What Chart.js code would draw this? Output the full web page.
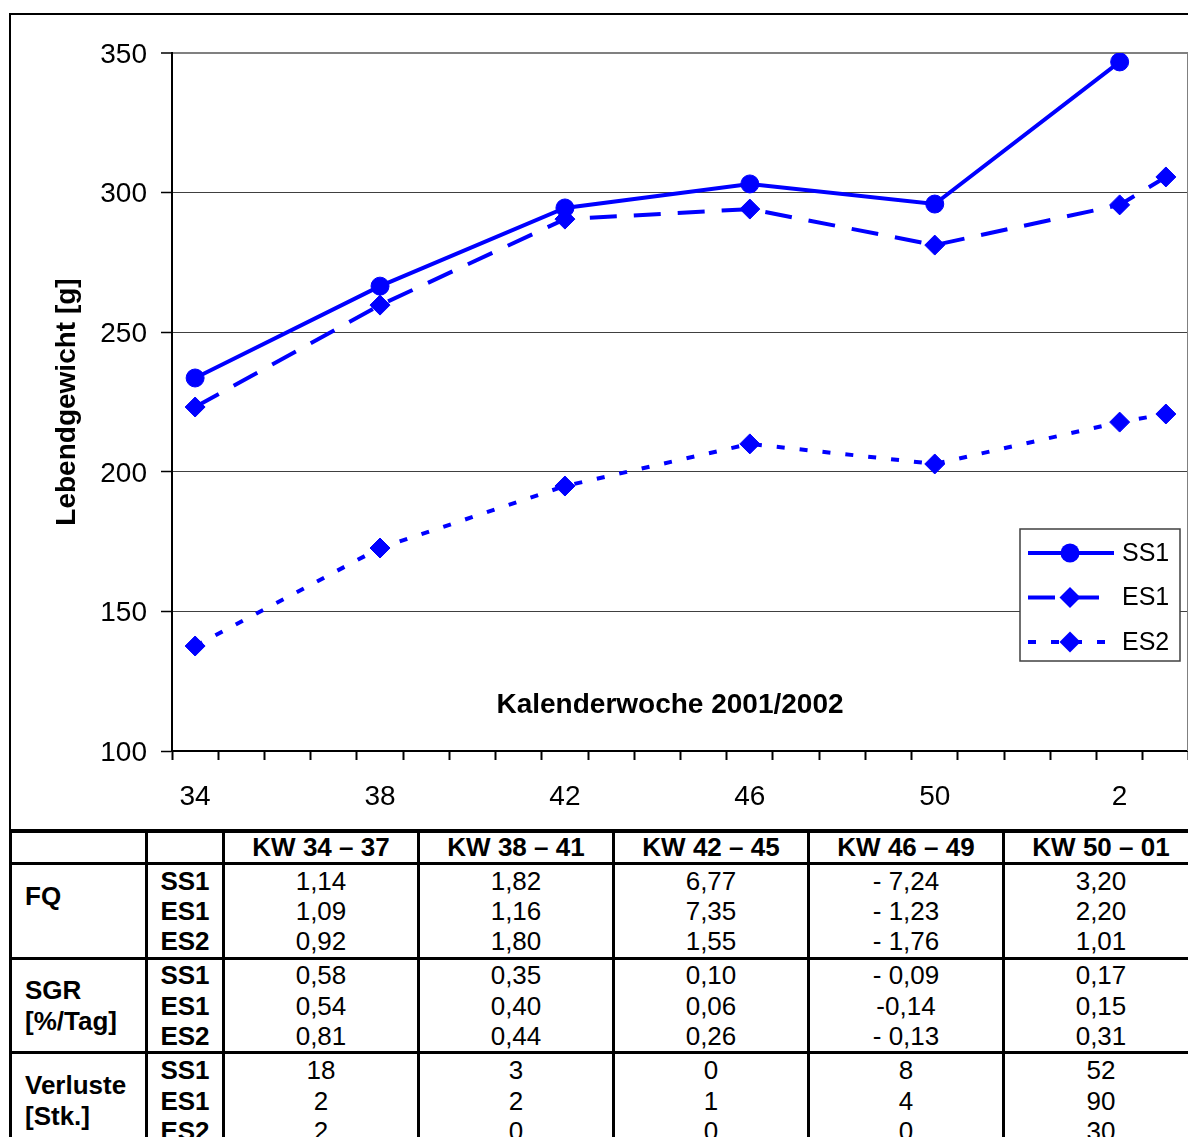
<!DOCTYPE html>
<html>
<head>
<meta charset="utf-8">
<title>Lebendgewicht</title>
<script src="https://cdn.jsdelivr.net/npm/chart.js@4.4.1/dist/chart.umd.min.js"></script>
<style>
    html, body {
        margin: 0;
        padding: 0;
        background: #fff;
        overflow: hidden;
        width: 1188px;
        height: 1137px;
        font-family: "Liberation Sans", Arial, sans-serif;
    }
    #frame {
        position: absolute;
        left: 9px;
        top: 13px;
        width: 1200px;
        height: 816px;
        border: 2px solid #000;
    }
    #chart-wrap {
        position: absolute;
        left: 0;
        top: 0;
        width: 1200px;
        height: 828px;
    }
    #stats {
        position: absolute;
        left: 9px;
        top: 829px;
        border-collapse: collapse;
        table-layout: fixed;
        width: 1188px;
        font-size: 26px;
        color: #000;
    }
    #stats td {
        border: 3px solid #000;
        padding: 0;
        line-height: 30.3px;
        text-align: center;
        vertical-align: middle;
    }
    #stats td.group {
        text-align: left;
        padding-left: 13px;
        font-weight: bold;
    }
    #stats td.series, #stats td.head {
        font-weight: bold;
    }
</style>
</head>
<body>
<div id="frame"></div>
<div id="chart-wrap"><canvas id="weightChart"></canvas></div>
<table id="stats"></table>

<script>
// x axis categories (calendar weeks 2001/2002)
const weekLabels = ['34', '35', '36', '37', '38', '39', '40', '41', '42', '43', '44', '45',
    '46', '47', '48', '49', '50', '51', '52', '1', '2', '3'];
const shownWeeks = ['34', '38', '42', '46', '50', '2'];

// measured live weights [g]
const ss1Weeks = ['34', '38', '42', '46', '50', '2'];
const ss1Values = [233.6, 266.5, 294.5, 303.1, 295.9, 346.8];
const esWeeks = ['34', '38', '42', '46', '50', '2', '3'];
const es1Values = [223.2, 259.7, 290.5, 294.1, 281.2, 295.6, 305.6];
const es2Values = [137.6, 172.7, 194.9, 210.0, 202.8, 217.8, 220.7];

// y axis range
const yMin = 100;
const yMax = 350;
const yStep = 50;

// table below the chart
const periods = ['KW 34 – 37', 'KW 38 – 41', 'KW 42 – 45', 'KW 46 – 49', 'KW 50 – 01'];
const seriesNames = ['SS1', 'ES1', 'ES2'];
const fqSS1 = ['1,14', '1,82', '6,77', '- 7,24', '3,20'];
const fqES1 = ['1,09', '1,16', '7,35', '- 1,23', '2,20'];
const fqES2 = ['0,92', '1,80', '1,55', '- 1,76', '1,01'];
const sgrSS1 = ['0,58', '0,35', '0,10', '- 0,09', '0,17'];
const sgrES1 = ['0,54', '0,40', '0,06', '-0,14', '0,15'];
const sgrES2 = ['0,81', '0,44', '0,26', '- 0,13', '0,31'];
const lossSS1 = ['18', '3', '0', '8', '52'];
const lossES1 = ['2', '2', '1', '4', '90'];
const lossES2 = ['2', '0', '0', '0', '30'];

const blue = '#0000ff';
const fontName = '"Liberation Sans", Arial, sans-serif';

function toPoints(weeks, values) {
    return weeks.map((w, i) => ({ x: w, y: values[i] }));
}

// draw one legend marker like the chart points
function drawMarker(ctx, style, x, y, r) {
    ctx.beginPath();
    if (style === 'circle') {
        ctx.arc(x, y, r, 0, Math.PI * 2);
    } else {
        ctx.moveTo(x - r, y);
        ctx.lineTo(x, y - r);
        ctx.lineTo(x + r, y);
        ctx.lineTo(x, y + r);
        ctx.closePath();
    }
    ctx.fill();
}

// extras: plot border, x title inside the plot, boxed legend
const extrasPlugin = {
    id: 'extras',
    afterDraw(chart) {
        const { ctx, chartArea } = chart;
        ctx.save();

        // right border of plot area
        ctx.strokeStyle = '#808080';
        ctx.lineWidth = 2;
        ctx.beginPath();
        ctx.moveTo(chartArea.right - 1, chartArea.top);
        ctx.lineTo(chartArea.right - 1, chartArea.bottom);
        ctx.stroke();

        // x axis title (sits inside the plot)
        ctx.fillStyle = '#000';
        ctx.font = 'bold 28px ' + fontName;
        ctx.textAlign = 'center';
        ctx.textBaseline = 'middle';
        ctx.fillText('Kalenderwoche 2001/2002', chartArea.left + 498, chartArea.bottom - 46);

        // legend box
        const bx = chartArea.right - 169;
        const by = chartArea.bottom - 222;
        const bw = 160;
        const bh = 132;
        ctx.fillStyle = '#fff';
        ctx.fillRect(bx, by, bw, bh);
        ctx.strokeStyle = '#404040';
        ctx.lineWidth = 1.5;
        ctx.strokeRect(bx, by, bw, bh);

        ctx.font = '25px ' + fontName;
        ctx.textAlign = 'left';
        chart.data.datasets.forEach((ds, i) => {
            const y = by + 24 + i * 44.5;
            ctx.strokeStyle = ds.borderColor;
            ctx.lineWidth = ds.borderWidth;
            ctx.setLineDash(ds.borderDash || []);
            ctx.beginPath();
            ctx.moveTo(bx + 8, y);
            ctx.lineTo(bx + 94, y);
            ctx.stroke();
            ctx.setLineDash([]);
            ctx.fillStyle = ds.pointBackgroundColor;
            drawMarker(ctx, ds.pointStyle, bx + 50, y, ds.pointStyle === 'circle' ? 9.5 : 10.5);
            ctx.fillStyle = '#000';
            ctx.fillText(ds.label, bx + 102, y + 1);
        });
        ctx.restore();
    }
};

const ctx = document.getElementById('weightChart').getContext('2d');
const weightChart = new Chart(ctx, {
    type: 'line',
    data: {
        labels: weekLabels,
        datasets: [{
            label: 'SS1',
            data: toPoints(ss1Weeks, ss1Values),
            borderColor: blue,
            borderWidth: 4,
            pointStyle: 'circle',
            pointRadius: 9,
            pointBorderWidth: 1,
            pointBackgroundColor: blue,
            pointBorderColor: blue,
            tension: 0
        }, {
            label: 'ES1',
            data: toPoints(esWeeks, es1Values),
            borderColor: blue,
            borderWidth: 4,
            borderDash: [27, 17],
            pointStyle: 'rectRot',
            pointRadius: 10,
            pointBorderWidth: 1,
            pointBackgroundColor: blue,
            pointBorderColor: blue,
            tension: 0
        }, {
            label: 'ES2',
            data: toPoints(esWeeks, es2Values),
            borderColor: blue,
            borderWidth: 4,
            borderDash: [8, 15],
            pointStyle: 'rectRot',
            pointRadius: 10,
            pointBorderWidth: 1,
            pointBackgroundColor: blue,
            pointBorderColor: blue,
            tension: 0
        }]
    },
    options: {
        responsive: true,
        maintainAspectRatio: false,
        animation: false,
        devicePixelRatio: 1,
        layout: {
            padding: { top: 53, right: 0, bottom: 0, left: 0 }
        },
        plugins: {
            legend: { display: false },
            tooltip: { enabled: false }
        },
        scales: {
            x: {
                type: 'category',
                offset: true,
                grid: {
                    offset: true,
                    drawOnChartArea: false,
                    drawTicks: true,
                    tickLength: 9,
                    tickColor: '#000',
                    tickWidth: 2
                },
                border: { display: true, color: '#000', width: 2 },
                ticks: {
                    autoSkip: false,
                    maxRotation: 0,
                    padding: 20,
                    color: '#000',
                    font: { family: fontName, size: 28 },
                    callback: function (value, index) {
                        const w = weekLabels[index];
                        return shownWeeks.includes(w) ? w : '';
                    }
                },
                afterFit: function (scale) {
                    scale.height = 77;
                }
            },
            y: {
                min: yMin,
                max: yMax,
                grid: {
                    color: (c) => c.tick && c.tick.value === yMax ? '#808080' : '#404040',
                    lineWidth: (c) => c.tick && c.tick.value === yMax ? 2 : 1,
                    drawTicks: true,
                    tickLength: 11,
                    tickColor: '#000',
                    tickWidth: 1.5
                },
                border: { display: true, color: '#000', width: 2 },
                ticks: {
                    stepSize: yStep,
                    padding: 14,
                    labelOffset: 2,
                    color: '#000',
                    font: { family: fontName, size: 28 }
                },
                title: {
                    display: true,
                    text: 'Lebendgewicht [g]',
                    color: '#000',
                    font: { family: fontName, size: 28, weight: 'bold' },
                    padding: { top: 50, bottom: 0 }
                },
                afterFit: function (scale) {
                    scale.width = 172;
                }
            }
        }
    },
    plugins: [extrasPlugin]
});

// build the statistics table
const table = document.getElementById('stats');
let html = '<colgroup><col style="width:136px"><col style="width:77px">';
periods.forEach(() => { html += '<col style="width:195px">'; });
html += '</colgroup>';
html += '<tr style="height:30px"><td></td><td></td>';
periods.forEach(p => { html += `<td class="head">${p}</td>`; });
html += '</tr>';

const groups = [
    { name: 'FQ<br>&nbsp;', rows: [fqSS1, fqES1, fqES2], height: 95 },
    { name: 'SGR<br>[%/Tag]', rows: [sgrSS1, sgrES1, sgrES2], height: 92 },
    { name: 'Verluste<br>[Stk.]', rows: [lossSS1, lossES1, lossES2], height: 96 }
];
groups.forEach(g => {
    html += `<tr style="height:${g.height}px"><td class="group">${g.name}</td>`;
    html += `<td class="series">${seriesNames.join('<br>')}</td>`;
    periods.forEach((p, i) => {
        html += `<td>${g.rows.map(r => r[i]).join('<br>')}</td>`;
    });
    html += '</tr>';
});
table.innerHTML = html;
</script>
</body>
</html>
